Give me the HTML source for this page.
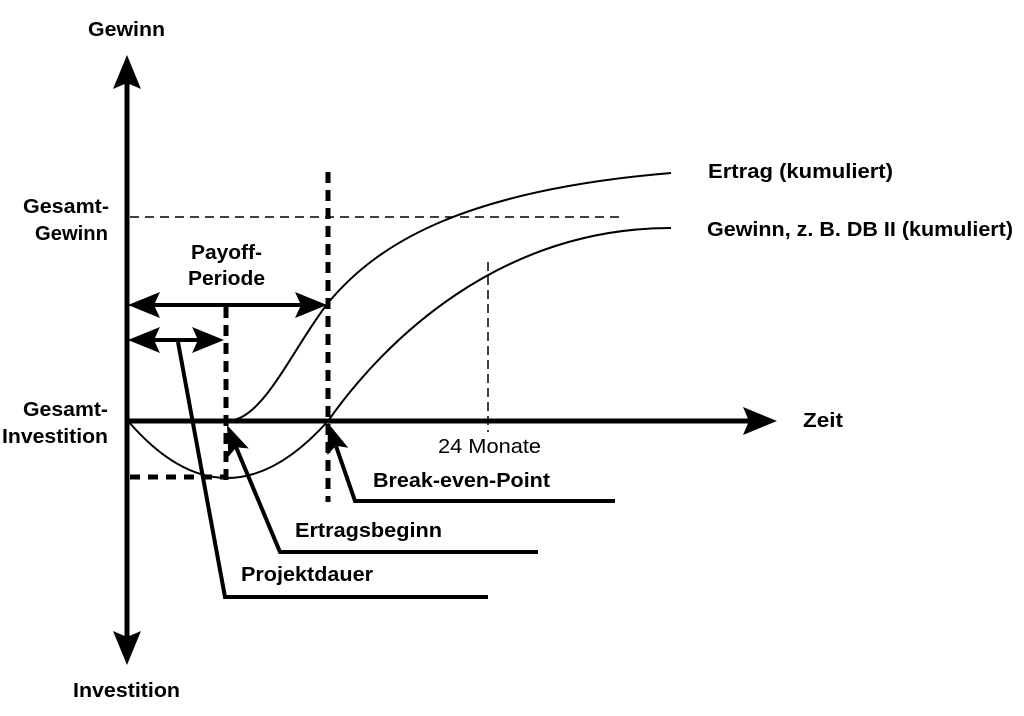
<!DOCTYPE html>
<html>
<head>
<meta charset="utf-8">
<style>
html,body{margin:0;padding:0;background:#fff;}
svg{display:block;}
text{font-family:"Liberation Sans",Arial,sans-serif;font-weight:bold;font-size:20px;fill:#000;}
</style>
</head>
<body>
<svg width="1024" height="716" viewBox="0 0 1024 716" xmlns="http://www.w3.org/2000/svg">
<rect width="1024" height="716" fill="#fff"/>

<!-- thin dashed helper lines -->
<line x1="130" y1="217" x2="623" y2="217" stroke="#000" stroke-width="1.5" stroke-dasharray="9 6"/>
<line x1="488" y1="262" x2="488" y2="432" stroke="#000" stroke-width="1.5" stroke-dasharray="9 5"/>

<!-- thick dashed lines -->
<line x1="226" y1="307" x2="226" y2="482" stroke="#000" stroke-width="5" stroke-dasharray="11 7"/>
<line x1="328" y1="172" x2="328" y2="502" stroke="#000" stroke-width="5" stroke-dasharray="11 7"/>
<line x1="130" y1="477" x2="226" y2="477" stroke="#000" stroke-width="5" stroke-dasharray="10 8"/>

<!-- curves -->
<path d="M233,420 C265,415 295,345 328,303 C380,240 470,190 671,173" fill="none" stroke="#000" stroke-width="2"/>
<path d="M128,421 Q226,535 328,421 C385,340 500,228 671,228" fill="none" stroke="#000" stroke-width="2"/>

<!-- vertical axis -->
<line x1="127" y1="80" x2="127" y2="640" stroke="#000" stroke-width="5"/>
<polygon points="127,55 141,89 127,83 113,89" fill="#000"/>
<polygon points="127,665 141,631 127,637 113,631" fill="#000"/>

<!-- horizontal axis -->
<line x1="127" y1="421" x2="752" y2="421" stroke="#000" stroke-width="5"/>
<polygon points="777,421 743,407 749,421 743,435" fill="#000"/>

<!-- payoff double arrow -->
<line x1="150" y1="305" x2="305" y2="305" stroke="#000" stroke-width="4"/>
<polygon points="128,305 160,292 154,305 160,318" fill="#000"/>
<polygon points="327,305 295,292 301,305 295,318" fill="#000"/>

<!-- small double arrow -->
<line x1="150" y1="340" x2="202" y2="340" stroke="#000" stroke-width="4"/>
<polygon points="128,340 160,327 154,340 160,353" fill="#000"/>
<polygon points="224,340 192,327 198,340 192,353" fill="#000"/>

<!-- leader lines -->
<polyline points="178,342 225,597 488,597" fill="none" stroke="#000" stroke-width="4"/>
<polyline points="236,447 280,552 538,552" fill="none" stroke="#000" stroke-width="4"/>
<polygon points="227,425 248.8,448.5 236.2,447.2 228.4,456.9" fill="#000"/>
<polyline points="336,446 355,501 615,501" fill="none" stroke="#000" stroke-width="4"/>
<polygon points="328,423 348.2,447.8 335.8,445.7 327.4,455" fill="#000"/>

<!-- labels -->
<text x="88" y="36" textLength="77" lengthAdjust="spacingAndGlyphs">Gewinn</text>
<text x="23" y="213" textLength="86" lengthAdjust="spacingAndGlyphs">Gesamt-</text>
<text x="35" y="240" textLength="73" lengthAdjust="spacingAndGlyphs">Gewinn</text>
<text x="191" y="259" textLength="71" lengthAdjust="spacingAndGlyphs">Payoff-</text>
<text x="188" y="285" textLength="77" lengthAdjust="spacingAndGlyphs">Periode</text>
<text x="23" y="416" textLength="85" lengthAdjust="spacingAndGlyphs">Gesamt-</text>
<text x="2" y="443" textLength="106" lengthAdjust="spacingAndGlyphs">Investition</text>
<text x="73" y="697" textLength="107" lengthAdjust="spacingAndGlyphs">Investition</text>
<text x="708" y="178" textLength="185" lengthAdjust="spacingAndGlyphs">Ertrag (kumuliert)</text>
<text x="707" y="236" textLength="306" lengthAdjust="spacingAndGlyphs">Gewinn, z. B. DB II (kumuliert)</text>
<text x="803" y="427" textLength="40" lengthAdjust="spacingAndGlyphs">Zeit</text>
<text x="438" y="453" textLength="103" lengthAdjust="spacingAndGlyphs" style="font-weight:normal">24 Monate</text>
<text x="373" y="487" textLength="177" lengthAdjust="spacingAndGlyphs">Break-even-Point</text>
<text x="295" y="537" textLength="147" lengthAdjust="spacingAndGlyphs">Ertragsbeginn</text>
<text x="241" y="581" textLength="132" lengthAdjust="spacingAndGlyphs">Projektdauer</text>
</svg>
</body>
</html>
